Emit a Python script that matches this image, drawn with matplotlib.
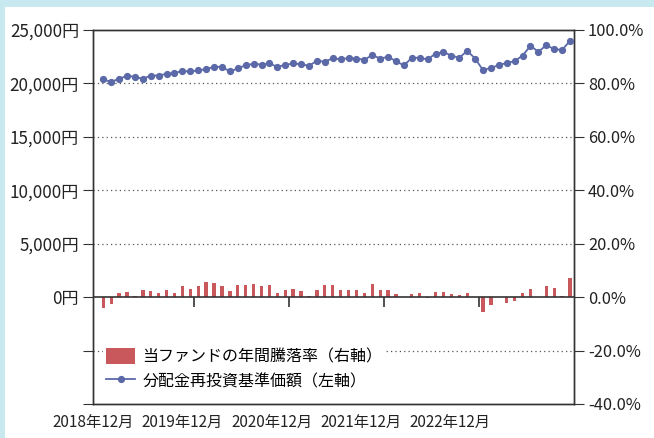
import matplotlib
matplotlib.use("Agg")
import matplotlib.pyplot as plt
import numpy as np
from matplotlib.patches import Rectangle

plt.rcParams['font.family'] = ['Noto Sans CJK JP', 'DejaVu Sans']

# ---- data (monthly, 2018-12 .. 2023-11) ----
nav = [20370, 20150, 20430, 20710, 20620, 20430, 20740, 20740, 20900, 20990,
       21150, 21120, 21210, 21340, 21550, 21550, 21120, 21400, 21710, 21830,
       21770, 21870, 21550, 21740, 21870, 21800, 21650, 22110, 22050, 22340,
       22270, 22370, 22330, 22210, 22650, 22330, 22490, 22080, 21680, 22400,
       22400, 22240, 22800, 22930, 22610, 22400, 23050, 22330, 21240, 21460,
       21710, 21930, 22080, 22610, 23520, 22960, 23580, 23210, 23140, 23990]
ret = [-4.2, -2.6, 1.4, 2.1, 0.6, 2.5, 2.2, 1.7, 2.6, 1.4,
       4.1, 3.2, 4.3, 5.8, 5.4, 4.1, 2.2, 4.5, 4.5, 5.1,
       4.1, 4.4, 1.7, 2.8, 3.1, 2.2, 0.6, 2.5, 4.5, 4.5,
       2.6, 2.5, 2.6, 1.4, 5.0, 2.8, 2.6, 1.0, 0.1, 1.0,
       1.4, -0.4, 2.1, 2.1, 1.0, 0.8, 1.6, 0.1, -5.6, -2.9,
       0.1, -2.1, -1.5, 1.5, 3.0, 0.2, 4.3, 3.5, 0.6, 7.3]
year_labels = ["2018年12月", "2019年12月", "2020年12月", "2021年12月", "2022年12月"]
year_label_pos = [-1.3, 10.0, 21.3, 32.6, 43.8]
year_ticks = [11.5, 23.5, 35.5, 47.5]
left_ticks = [-10000, -5000, 0, 5000, 10000, 15000, 20000, 25000]
right_ticks = [-40, -20, 0, 20, 40, 60, 80, 100]
legend_labels = ["当ファンドの年間騰落率（右軸）", "分配金再投資基準価額（左軸）"]

LINE_C = "#5b69a8"
BAR_C = "#c9585d"
AX_C = "#333333"
TXT_C = "#222222"

fig = plt.figure(figsize=(6.54, 4.38), dpi=100)
fig.patch.set_facecolor("#c9e9f0")
fig.patches.append(Rectangle((5/654, 0), 1, 1 - 7/438, transform=fig.transFigure,
                             facecolor="white", edgecolor="none", zorder=-1))

ax = fig.add_axes([93/654, 1 - 404/438, 481/654, 374/438])
ax.set_facecolor("none")
ax2 = ax.twinx()
x = np.arange(len(nav))

ax.set_xlim(-0.5, len(nav) - 0.5)
ax.set_ylim(-10000, 25000)
ax2.set_ylim(-40, 100)

# grid
for v in left_ticks:
    if v in (0, 25000, -10000):
        continue
    ax.axhline(v, color="#555555", lw=0.9, ls=(0, (1, 2.5)), zorder=1)
ax.axhline(0, color=AX_C, lw=1.2, zorder=3)

bars = ax2.bar(x, ret, width=0.42, color=BAR_C, zorder=2)
line, = ax.plot(x, nav, color=LINE_C, lw=1.3, marker="o", ms=4.2, zorder=4)
ax.set_zorder(ax2.get_zorder() + 1)

ax.set_yticks(left_ticks)
ax.set_yticklabels(["" if v < 0 else f"{v:,}円" for v in left_ticks], fontsize=12.3)
ax2.set_yticks(right_ticks)
ax2.set_yticklabels([f"{v:.1f}%" for v in right_ticks], fontsize=11.8)
ax.tick_params(axis="y", length=7, color=AX_C, pad=3, labelcolor=TXT_C)
ax2.tick_params(axis="y", length=7, color=AX_C, pad=3, labelcolor=TXT_C)

ax.set_xticks(year_label_pos)
ax.set_xticklabels(year_labels, fontsize=11)
ax.tick_params(axis="x", length=0, pad=7, labelcolor=TXT_C)
ax2.tick_params(axis="x", length=0)

sec = ax.secondary_xaxis(10000 / 35000)
sec.set_xticks(year_ticks)
sec.set_xticklabels([])
sec.tick_params(axis="x", direction="out", length=7, color=AX_C, width=1.2)
sec.spines["bottom"].set_visible(False)
sec.spines["top"].set_visible(False)

for a in (ax, ax2):
    for s in a.spines.values():
        s.set_color(AX_C)
        s.set_linewidth(1.0)

leg = ax.legend([bars, line], legend_labels, loc="upper left",
                bbox_to_anchor=(10/481, 1 - 315/374), fontsize=11.5, frameon=True,
                facecolor="white", edgecolor="none", framealpha=1,
                handlelength=1.8, handleheight=1.15, handletextpad=0.45,
                labelspacing=0.45, borderpad=0.2, borderaxespad=0)
leg.set_zorder(10)

fig.savefig("out.png", dpi=100, facecolor=fig.get_facecolor())
